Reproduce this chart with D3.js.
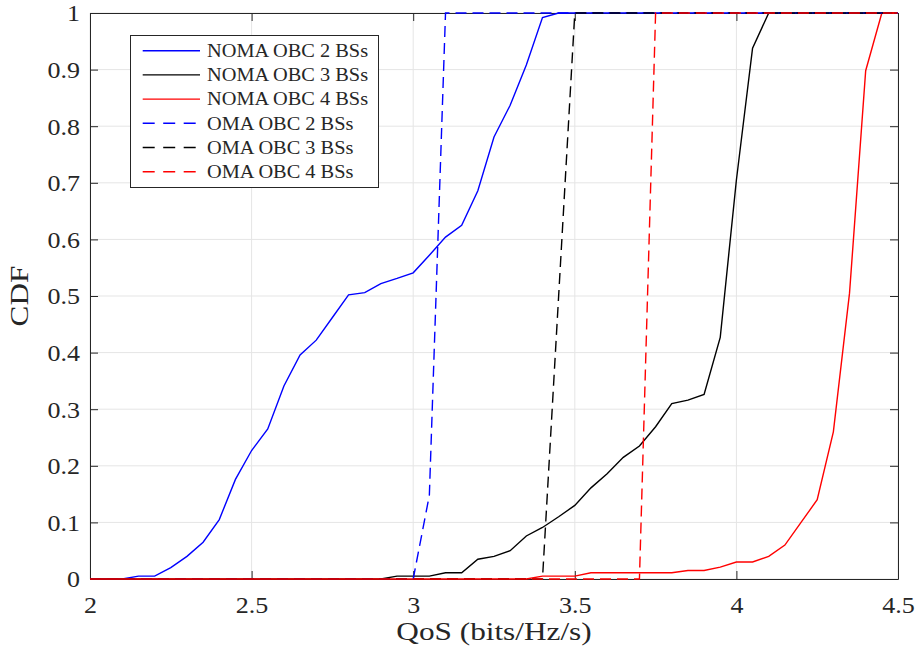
<!DOCTYPE html>
<html>
<head>
<meta charset="utf-8">
<script src="https://cdn.jsdelivr.net/npm/d3@7"></script>
<style>
  html, body { margin: 0; padding: 0; background: #fff; }
  svg { display: block; }
  text { font-family: "Liberation Serif", "Times New Roman", serif; fill: #262626; }
</style>
</head>
<body>
<svg id="chart" width="919" height="656"></svg>
<script>
// QoS samples (bits/Hz/s) and empirical CDF values for each scheme
const nomaObc2X = [2, 2.1, 2.15, 2.2, 2.25, 2.3, 2.35, 2.4, 2.45, 2.5, 2.55, 2.6, 2.65, 2.7, 2.75, 2.8, 2.85, 2.9, 2.95, 3.0, 3.05, 3.1, 3.15, 3.2, 3.25, 3.3, 3.35, 3.4, 3.45, 4.5];
const nomaObc2Y = [0, 0, 0.005, 0.005, 0.02, 0.04, 0.065, 0.105, 0.176, 0.227, 0.265, 0.341, 0.396, 0.422, 0.462, 0.502, 0.506, 0.522, 0.531, 0.541, 0.572, 0.604, 0.625, 0.686, 0.781, 0.837, 0.908, 0.992, 1, 1];

const nomaObc3X = [2, 2.9, 2.95, 3.0, 3.05, 3.1, 3.15, 3.2, 3.25, 3.3, 3.35, 3.4, 3.45, 3.5, 3.55, 3.6, 3.65, 3.7, 3.75, 3.8, 3.85, 3.9, 3.95, 4.0, 4.05, 4.1, 4.5];
const nomaObc3Y = [0, 0, 0.005, 0.005, 0.005, 0.011, 0.011, 0.035, 0.04, 0.05, 0.076, 0.091, 0.11, 0.13, 0.161, 0.186, 0.215, 0.235, 0.269, 0.31, 0.316, 0.326, 0.427, 0.705, 0.938, 1, 1];

const nomaObc4X = [2, 3.35, 3.4, 3.5, 3.55, 3.8, 3.85, 3.9, 3.95, 4.0, 4.05, 4.1, 4.15, 4.2, 4.25, 4.3, 4.35, 4.4, 4.45, 4.5];
const nomaObc4Y = [0, 0, 0.005, 0.005, 0.011, 0.011, 0.015, 0.015, 0.021, 0.03, 0.03, 0.04, 0.06, 0.1, 0.14, 0.26, 0.505, 0.898, 1, 1];

const omaObc2X = [2, 3.0, 3.05, 3.1, 4.5];
const omaObc2Y = [0, 0, 0.148, 1, 1];

const omaObc3X = [2, 3.4, 3.5, 4.5];
const omaObc3Y = [0, 0, 1, 1];

const omaObc4X = [2, 3.7, 3.75, 4.5];
const omaObc4Y = [0, 0, 1, 1];

const seriesNames = ["NOMA OBC 2 BSs", "NOMA OBC 3 BSs", "NOMA OBC 4 BSs", "OMA OBC 2 BSs", "OMA OBC 3 BSs", "OMA OBC 4 BSs"];
const seriesColors = ["#0000ff", "#000000", "#ff0000", "#0000ff", "#000000", "#ff0000"];
const seriesDashed = [false, false, false, true, true, true];

const xTicks = [2, 2.5, 3, 3.5, 4, 4.5];
const yTicks = [0, 0.1, 0.2, 0.3, 0.4, 0.5, 0.6, 0.7, 0.8, 0.9, 1];

const xLabel = "QoS (bits/Hz/s)";
const yLabel = "CDF";

(function draw() {
  const seriesX = [nomaObc2X, nomaObc3X, nomaObc4X, omaObc2X, omaObc3X, omaObc4X];
  const seriesY = [nomaObc2Y, nomaObc3Y, nomaObc4Y, omaObc2Y, omaObc3Y, omaObc4Y];
  const series = seriesNames.map((name, i) => ({
    name,
    color: seriesColors[i],
    dashed: seriesDashed[i],
    points: seriesX[i].map((x, j) => [x, seriesY[i][j]])
  }));

  // Plot box
  const pLeft = 90, pRight = 898, pTop = 13, pBottom = 579;
  const axisColor = "#262626";
  const gridColor = "#e5e5e5";
  const tickLen = 8;
  const stretch = 1.13; // widen the serif glyphs slightly

  const svg = d3.select("#chart");
  const x = d3.scaleLinear().domain([2, 4.5]).range([pLeft, pRight]);
  const y = d3.scaleLinear().domain([0, 1]).range([pBottom, pTop]);

  function widen(sel, k = stretch) {
    sel.each(function () {
      const w = this.getComputedTextLength();
      d3.select(this).attr("textLength", w * k).attr("lengthAdjust", "spacingAndGlyphs");
    });
  }

  // Grid
  const grid = svg.append("g");
  grid.selectAll("line.gx").data(xTicks).join("line")
    .attr("x1", d => x(d)).attr("x2", d => x(d))
    .attr("y1", pTop).attr("y2", pBottom)
    .attr("stroke", gridColor).attr("stroke-width", 1);
  grid.selectAll("line.gy").data(yTicks).join("line")
    .attr("x1", pLeft).attr("x2", pRight)
    .attr("y1", d => y(d)).attr("y2", d => y(d))
    .attr("stroke", gridColor).attr("stroke-width", 1);

  // Axes with inward ticks on all four sides
  const xAxisBottom = d3.axisBottom(x).tickValues(xTicks).tickSizeInner(-tickLen).tickSizeOuter(0).tickFormat(d3.format("~g"));
  const xAxisTop = d3.axisTop(x).tickValues(xTicks).tickSizeInner(-tickLen).tickSizeOuter(0).tickFormat("");
  const yAxisLeft = d3.axisLeft(y).tickValues(yTicks).tickSizeInner(-tickLen).tickSizeOuter(0).tickFormat(d3.format("~g"));
  const yAxisRight = d3.axisRight(y).tickValues(yTicks).tickSizeInner(-tickLen).tickSizeOuter(0).tickFormat("");

  function styleAxis(g) {
    g.select(".domain").attr("stroke", axisColor).attr("stroke-width", 1);
    g.selectAll(".tick line").attr("stroke", axisColor).attr("stroke-width", 1);
    g.selectAll(".tick text")
      .attr("fill", axisColor)
      .style("font-family", '"Liberation Serif", "Times New Roman", serif')
      .style("font-size", "23px");
  }

  const gxb = svg.append("g").attr("transform", `translate(0,${pBottom})`).call(xAxisBottom).call(styleAxis);
  gxb.selectAll(".tick text").attr("y", 34).attr("dy", 0);
  svg.append("g").attr("transform", `translate(0,${pTop})`).call(xAxisTop).call(styleAxis);
  const gyl = svg.append("g").attr("transform", `translate(${pLeft},0)`).call(yAxisLeft).call(styleAxis);
  gyl.selectAll(".tick text").attr("x", -10).attr("dy", "0.34em");
  svg.append("g").attr("transform", `translate(${pRight},0)`).call(yAxisRight).call(styleAxis);
  widen(gxb.selectAll(".tick text"));
  widen(gyl.selectAll(".tick text"));

  // Axis labels
  svg.append("text")
    .attr("x", (pLeft + pRight) / 2).attr("y", 640)
    .attr("text-anchor", "middle")
    .style("font-size", "25px")
    .text(xLabel)
    .call(widen, 1.25);
  svg.append("text")
    .attr("transform", `translate(28,${(pTop + pBottom) / 2}) rotate(-90)`)
    .attr("text-anchor", "middle")
    .style("font-size", "25px")
    .text(yLabel)
    .call(widen, 1.25);

  // Curves
  const line = d3.line().x(d => x(d[0])).y(d => y(d[1]));
  svg.append("g").selectAll("path").data(series).join("path")
    .attr("d", d => line(d.points))
    .attr("fill", "none")
    .attr("stroke", d => d.color)
    .attr("stroke-width", 1.4)
    .attr("stroke-dasharray", d => d.dashed ? "11,6" : null);

  // Legend
  const lg = svg.append("g");
  const lgX = 130, lgY = 35, lgW = 248, lgH = 152, rowH = 24.2;
  lg.append("rect")
    .attr("x", lgX + 0.5).attr("y", lgY + 0.5).attr("width", lgW).attr("height", lgH)
    .attr("fill", "#fff").attr("stroke", axisColor).attr("stroke-width", 1);
  const rows = lg.selectAll("g.row").data(series).join("g")
    .attr("transform", (d, i) => `translate(0,${lgY + 15.7 + i * rowH})`);
  rows.append("line")
    .attr("x1", 142.7).attr("x2", 200)
    .attr("stroke", d => d.color).attr("stroke-width", 1.4)
    .attr("stroke-dasharray", d => d.dashed ? "12,8.5" : null);
  rows.append("text")
    .attr("x", 207).attr("dy", "0.35em")
    .style("font-size", "18px")
    .attr("fill", "#000")
    .text(d => d.name)
    .call(widen);
})();
</script>
</body>
</html>
